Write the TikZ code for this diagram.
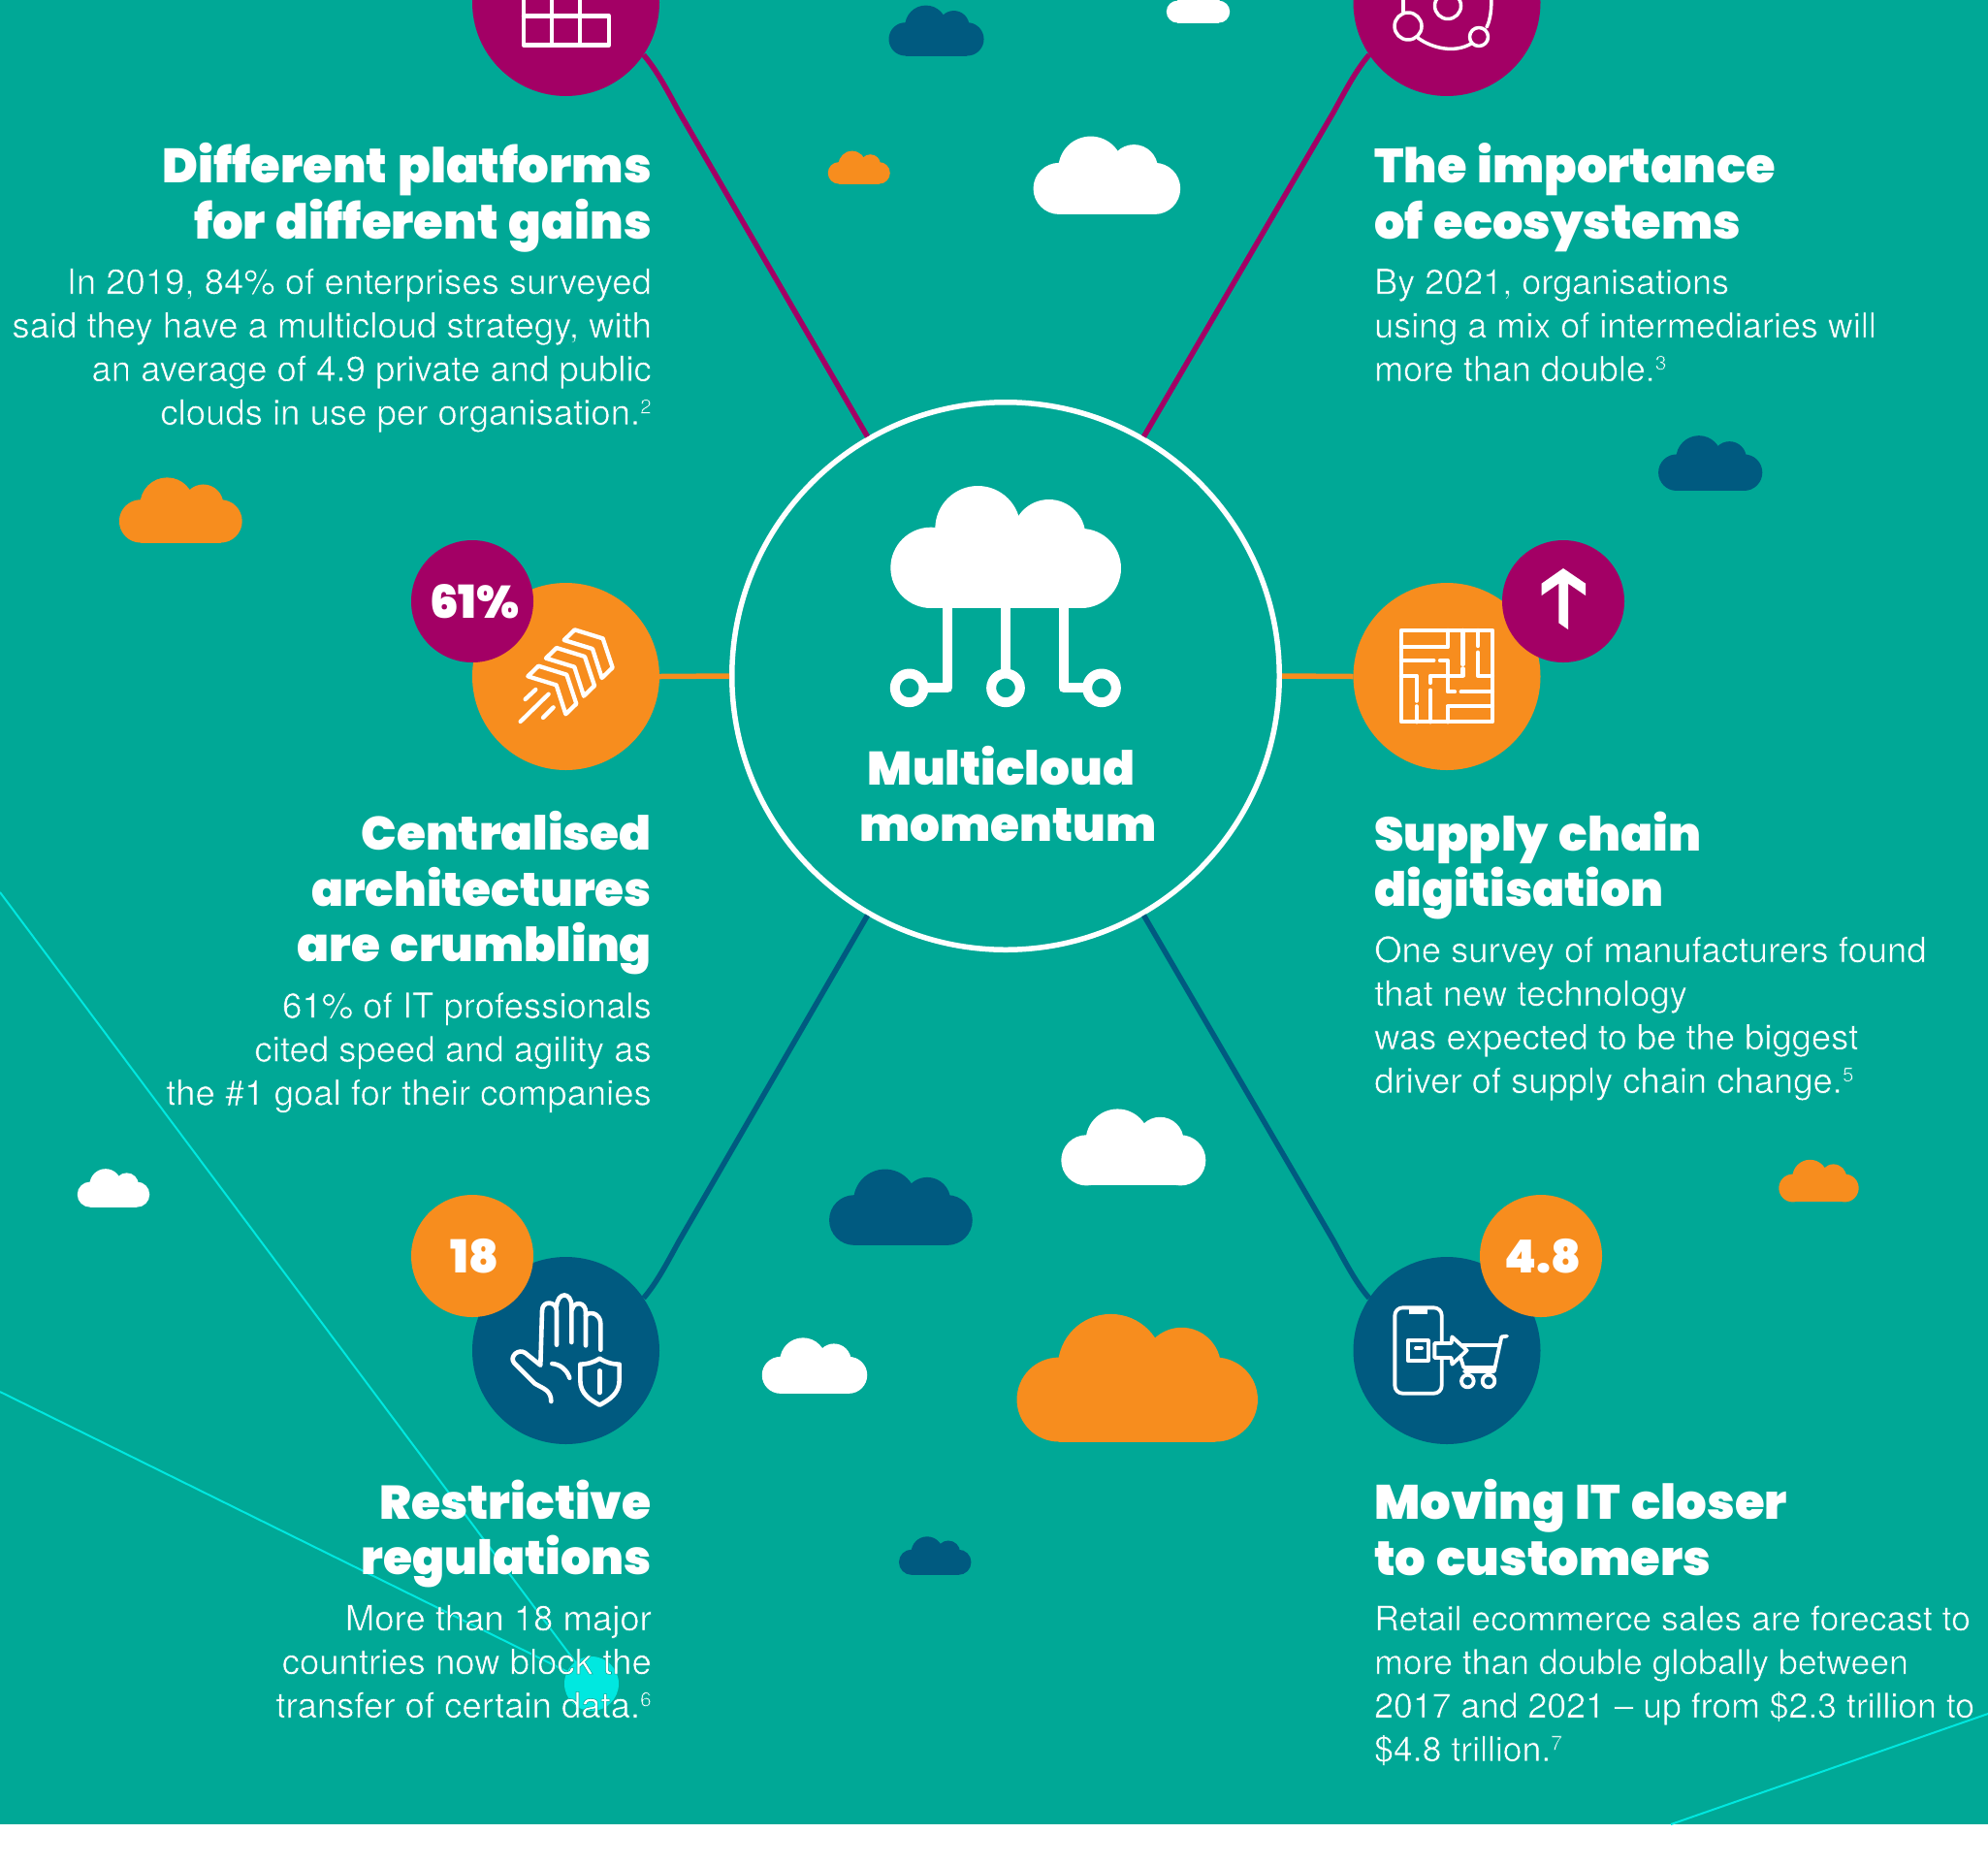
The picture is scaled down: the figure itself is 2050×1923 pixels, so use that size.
\documentclass[tikz,border=0pt]{standalone}
\usepackage{fontspec}
\setmainfont{TeX Gyre Heros}
\newfontfamily\heavy{Poppins Black}[WordSpace=1.3]
\definecolor{teal}{RGB}{0,168,150}
\definecolor{orng}{RGB}{247,141,30}
\definecolor{mgnt}{RGB}{163,0,101}
\definecolor{navy}{RGB}{0,90,128}
\definecolor{cyn}{RGB}{0,232,224}
\newcommand\up[1]{\raisebox{11.6pt}{\fontsize{21}{21}\selectfont #1}}
\newcommand\tl{\rule{0pt}{40pt}}
\newcommand\thin{\special{pdf:code 0 .659 .588 RG .55 w 2 Tr}\rule{0pt}{40pt}}
\newcommand\bgcloud[4]{%
  \pgfmathsetmacro\cl{#1*1.3074}\pgfmathsetmacro\cb{#3*1.3074}\pgfmathsetmacro\cw{(#2-#1)*1.3074}%
  \begin{scope}[shift={(\cl,\cb)},x=\cw pt,y=\cw pt]
    \fill[#4] (.175,0) rectangle (.825,.35);
    \fill[#4] (.175,.175) circle[radius=.175];
    \fill[#4] (.825,.175) circle[radius=.175];
    \fill[#4] (.39,.31) circle[radius=.22];
    \fill[#4] (.684,.311) circle[radius=.163];
  \end{scope}}
\tikzset{
  big/.style={circle,minimum size=193pt,inner sep=0pt},
  badge/.style={circle,minimum size=126pt,inner sep=0pt,text=white,font=\heavy\fontsize{47}{47}\selectfont},
  hd/.style={inner sep=0pt,text=white,font=\heavy\fontsize{#1}{57.5}\selectfont},
  bd/.style={inner sep=0pt,text=white,font=\fontsize{#1}{44.9}\selectfont},
  conn/.style={line width=5.5pt},
  ico/.style={draw=white,line width=4.3pt,line cap=round,line join=round},
  bgline/.style={cyn,line width=2pt},
  zoomed/.style n args={2}{shift={(#1,#2)},x=.33333pt,y=-.33333pt}
}
\begin{document}
\begin{tikzpicture}[x=1pt,y=-1pt]
\clip (0,0) rectangle (2050,1923);
\fill[white] (0,0) rectangle (2050,1923);
\fill[teal] (0,0) rectangle (2050,1881);
% faint lines
\begin{scope}
\clip (0,0) rectangle (2050,1881);
\coordinate (spot) at (610,1736);
\coordinate (la) at (0,920);
\coordinate (lb) at (0,1435);
\coordinate (lc) at (1723,1881);
\coordinate (ld) at (2050,1767);
\draw[bgline] (la) -- (spot);
\draw[bgline] (lb) -- (spot);
\draw[bgline] (lc) -- (ld);
\fill[cyn] (spot) circle[radius=28];
\end{scope}
% clouds
\bgcloud{701}{776}{44}{navy}
\bgcloud{920}{970}{18}{white}
\bgcloud{653}{702}{145}{orng}
\bgcloud{815}{931}{169}{white}
\bgcloud{1308}{1390}{387}{navy}
\bgcloud{94}{191}{428}{orng}
\bgcloud{61}{118}{952}{white}
\bgcloud{837}{951}{935}{white}
\bgcloud{654}{767}{982}{navy}
\bgcloud{1403}{1466}{948}{orng}
\bgcloud{601}{684}{1099}{white}
\bgcloud{802}{992}{1137}{orng}
\bgcloud{709}{766}{1242}{navy}
% hub
\node[circle,draw=white,line width=5.5pt,minimum size=564.5pt,inner sep=0pt] (hub) at (1037,697) {};
% circles
\node[big,fill=mgnt] (tl) at (583.5,2.5) {};
\node[big,fill=mgnt] (tr) at (1492,2.5) {};
\node[big,fill=orng] (ml) at (583.5,697.5) {};
\node[big,fill=orng] (mr) at (1492,697.5) {};
\node[big,fill=navy] (bl) at (583.5,1392.5) {};
\node[big,fill=navy] (br) at (1492,1392.5) {};
\node[badge,fill=mgnt] (b61) at (487,620) {\hspace*{5pt}61\%};
\node[badge,fill=mgnt] (bup) at (1612,620) {};
\node[badge,fill=orng] (b18) at (487,1295) {\hspace*{5pt}18};
\node[badge,fill=orng] (b48) at (1589,1295) {\hspace*{4pt}4.8};
% connectors
\draw[conn,mgnt] (tl.-34) .. controls (677,72) and (688,93) .. (700,115) -- (hub.120);
\draw[conn,mgnt] (tr.214) .. controls (1398.5,72) and (1387.5,93) .. (1375.5,115) -- (hub.60);
\draw[conn,navy] (bl.34) .. controls (677,1323) and (688,1302) .. (700,1280) -- (hub.240);
\draw[conn,navy] (br.146) .. controls (1398.5,1323) and (1387.5,1302) .. (1375.5,1280) -- (hub.300);
\draw[conn,orng] (ml) ++(96.5,0) -- (hub.180);
\draw[conn,orng] (mr) ++(-96.5,0) -- (hub.0);
% hub icon
\begin{scope}[zoomed={880}{480}]
  \fill[white] (240,316) circle[radius=125];
  \fill[white] (385,195) circle[radius=132];
  \fill[white] (605,218) circle[radius=113];
  \fill[white] (705,318) circle[radius=123];
  \fill[white] (270,200) rectangle (680,441);
  \fill[white] (240,316) rectangle (705,441);
  \begin{scope}[draw=white,line width=10pt,line join=round]
    \draw (292,430) -- (292,688) -- (225,688);
    \draw (471,430) -- (471,635);
    \draw (650,430) -- (650,688) -- (716,688);
    \draw (173,688) circle[radius=44.5];
    \draw (471,688) circle[radius=44.5];
    \draw (768,688) circle[radius=44.5];
  \end{scope}
\end{scope}
\node[inner sep=0pt,text=white,align=center,anchor=north,font=\heavy\fontsize{48.5}{57.7}\selectfont] (hubt) at (1039.5,769) {\tl Multicloud\hspace*{14pt}\\momentum};
% top-left icon
\begin{scope}[ico]
  \draw (540,-5) -- (540,46.5) -- (628,46.5) -- (628,16.5) -- (540,16.5);
  \draw (569,-5) -- (569,46.5);
  \draw (598,-5) -- (598,46.5);
\end{scope}
% top-right icon
\begin{scope}[ico,line width=3.5pt]
  \draw (1452,27) circle[radius=14];
  \draw (1525,38) circle[radius=9.5];
  \draw (1493,6) circle[radius=13.5];
  \draw (1447,12) -- (1447,-5);
  \draw (1462,39) .. controls (1477,50) and (1500,55) .. (1517,45);
  \draw (1533,28) .. controls (1537,20) and (1538,10) .. (1538,-5);
\end{scope}
% speed icon
\begin{scope}[zoomed={400}{520},ico]
  \foreach \dx/\dy in {0/0,-56/56,-112/112}{
    \draw[shift={(\dx,\dy)}] (578,388) -- (665,415) -- (695,505) -- (662,537) -- (633,447) -- (545,420) -- cycle;
  }
  \draw (410,672) -- (497,587);
  \draw (425,603) -- (457,573);
  \draw (480,660) -- (512,628);
\end{scope}
% maze icon
\begin{scope}[zoomed={1370}{530},ico]
  \draw (225,360) rectangle (507,643);
  \draw (225,412) -- (368,412) -- (368,360);
  \draw (415,360) -- (415,465);
  \draw (462,360) -- (462,408);
  \draw (462,428) -- (462,500) -- (507,500);
  \draw (225,453) -- (325,453);
  \draw (345,453) -- (368,453) -- (368,550) -- (390,550);
  \draw (225,500) -- (272,500) -- (272,578);
  \draw (272,595) -- (272,643);
  \draw (315,522) -- (315,500) -- (415,500) -- (415,478);
  \draw (315,545) -- (315,643);
  \draw (410,550) -- (507,550);
  \draw (368,643) -- (368,595) -- (507,595);
  \fill[white] (726,168) -- (795,215) -- (795,252) -- (741,215) -- (741,357) -- (712,337) -- (712,215) -- (659,252) -- (659,215) -- cycle;
\end{scope}
% hand icon
\begin{scope}[zoomed={400}{1210},ico,line width=4.6pt]
  \draw (505,705) .. controls (505,670) and (480,665) .. (455,650) -- (390,585) .. controls (375,565) and (405,540) .. (425,555) -- (472,593) -- (477,425) .. controls (477,390) and (522,395) .. (522,425) -- (522,530);
  \draw (522,410) .. controls (525,365) and (568,365) .. (568,410) -- (568,522);
  \draw (570,420) .. controls (575,395) and (612,395) .. (612,430) -- (612,532);
  \draw (612,440) .. controls (620,425) and (658,430) .. (658,465) -- (658,545);
  \draw (508,588) .. controls (535,590) and (555,610) .. (562,632);
  \draw (655,572) .. controls (675,585) and (695,590) .. (716,590) -- (716,640) .. controls (716,680) and (685,700) .. (655,716) .. controls (625,700) and (595,680) .. (595,640) -- (595,590) .. controls (615,590) and (635,585) .. (655,572) -- cycle;
  \draw (655,610) -- (655,678);
\end{scope}
% phone and cart icon
\begin{scope}[zoomed={1370}{1210},ico,line width=3.8pt]
  \draw[rounded corners=8pt] (205,415) rectangle (350,680);
  \draw[line width=5pt,line cap=butt] (250,428) -- (305,428);
  \draw (245,517) rectangle (308,578);
  \draw (270,540) -- (288,540);
  \draw[fill=navy] (328,525) -- (380,525) -- (382,505) -- (428,547) -- (382,590) -- (380,570) -- (328,570) -- cycle;
  \draw (552,503) -- (535,505) -- (512,612) -- (420,612);
  \draw (412,532) -- (528,532);
  \draw (408,568) -- (418,600) -- (515,600);
  \draw (430,642) circle[radius=19];
  \draw (495,642) circle[radius=19];
\end{scope}
% text
\node[hd=49.7,align=right,anchor=north east] (h1) at (672,147.5) {\tl Different platforms\\for different gains};
\node[bd=36.5,align=right,anchor=north east] (t1) at (672,263) {\thin In 2019, 84\% of enterprises surveyed\\said they have a multicloud strategy, with\\an average of 4.9 private and public\\clouds in use per organisation.\up{2}};
\node[hd=49.4,align=left,anchor=north west] (h2) at (1417,147.5) {\tl The importance\\of ecosystems};
\node[bd=36,align=left,anchor=north west] (t2) at (1417,263) {\thin By 2021, organisations\\using a mix of intermediaries will\\more than double.\up{3}};
\node[hd=48.5,align=right,anchor=north east] (h3) at (672,836.5) {\tl Centralised\\architectures\\are crumbling};
\node[bd=36.5,align=right,anchor=north east] (t3) at (672,1009.5) {\thin 61\% of IT professionals\\cited speed and agility as\\the \#1 goal for their companies};
\node[hd=48.8,align=left,anchor=north west] (h4) at (1417,836.5) {\tl Supply chain\\digitisation};
\node[bd=36.4,align=left,anchor=north west] (t4) at (1417,952) {\thin One survey of manufacturers found\\that new technology\\was expected to be the biggest\\driver of supply chain change.\up{5}};
\node[hd=48.8,align=right,anchor=north east] (h5) at (672,1525.5) {\tl Restrictive\\regulations};
\node[bd=36.5,align=right,anchor=north east] (t5) at (672,1641) {\thin More than 18 major\\countries now block the\\transfer of certain data.\up{6}};
\node[hd=49.7,align=left,anchor=north west] (h6) at (1417,1525.5) {\tl Moving IT closer\\to customers};
\node[bd=35.6,align=left,anchor=north west] (t6) at (1417,1641) {\thin Retail ecommerce sales are forecast to\\more than double globally between\\2017 and 2021 – up from \$2.3 trillion to\\\$4.8 trillion.\up{7}};
\end{tikzpicture}
\end{document}
